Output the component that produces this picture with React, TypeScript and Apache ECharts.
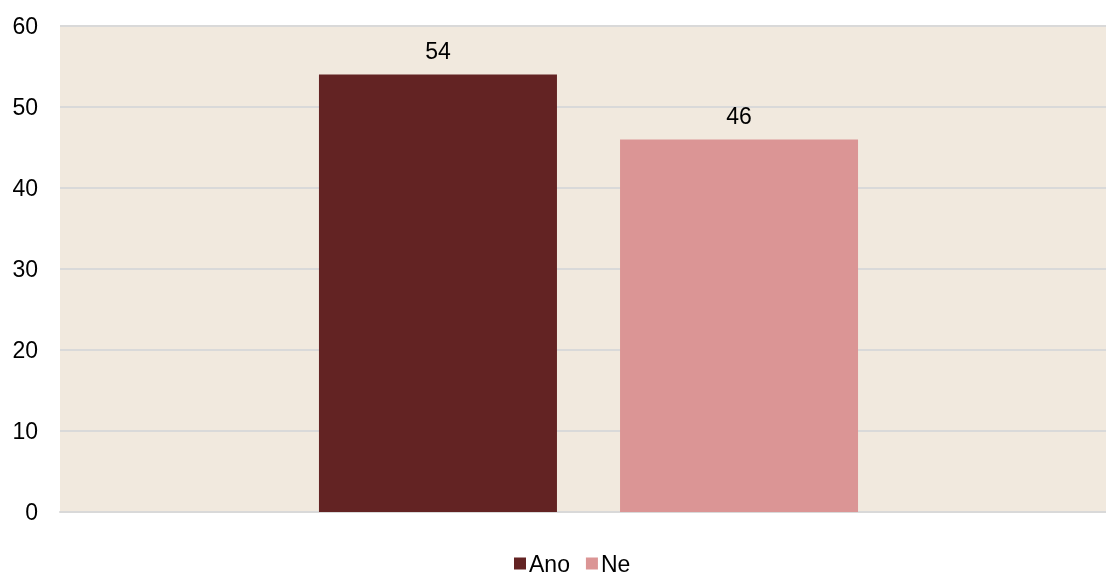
import React, { useEffect, useRef } from "react";
import * as echarts from "echarts";

const categories = [""];
const seriesNames = ["Ano", "Ne"];
const anoValues = [54];
const neValues = [46];
const yTicks = [0, 10, 20, 30, 40, 50, 60];

export default function App() {
  const ref = useRef<HTMLDivElement>(null);
  useEffect(() => {
    const chart = echarts.init(ref.current!, null, { renderer: "svg" });
    const font = "Liberation Sans, Arial, sans-serif";
    chart.setOption({
      animation: false,
      textStyle: { fontFamily: font },
      grid: {
        left: 60,
        right: -11,
        top: 26,
        bottom: 63,
        outerBoundsMode: "none",
        containLabel: false,
        show: true,
        backgroundColor: "#F1E9DE",
        borderWidth: 0,
      },
      legend: {
        top: 552,
        left: 514,
        padding: 0,
        itemWidth: 12,
        itemHeight: 12,
        itemGap: 16,
        icon: "rect",
        textStyle: {
          fontSize: 23,
          lineHeight: 20,
          color: "#000",
          fontFamily: font,
          padding: [0, 0, 0, -2],
        },
        data: seriesNames,
      },
      xAxis: {
        type: "category",
        data: categories,
        axisLine: { lineStyle: { color: "#D9D9D9", width: 2 } },
        axisTick: { show: false },
        axisLabel: { show: false },
      },
      yAxis: {
        type: "value",
        min: yTicks[0],
        max: yTicks[yTicks.length - 1],
        interval: 10,
        axisLine: { show: false },
        axisTick: { show: false },
        axisLabel: { fontSize: 23, color: "#000", margin: 22, fontFamily: font },
        splitLine: { lineStyle: { color: "#D9D9D9", width: 2 } },
      },
      series: [
        {
          name: seriesNames[0],
          type: "bar",
          data: anoValues,
          barWidth: 238,
          barGap: "26.5%",
          itemStyle: { color: "#632323" },
          label: { show: true, position: "top", distance: 12, fontSize: 23, color: "#000", fontFamily: font },
        },
        {
          name: seriesNames[1],
          type: "bar",
          data: neValues,
          barWidth: 238,
          barGap: "26.5%",
          itemStyle: { color: "#DB9595" },
          label: { show: true, position: "top", distance: 12, fontSize: 23, color: "#000", fontFamily: font },
        },
      ],
    });
    return () => chart.dispose();
  }, []);
  return (
    <div
      ref={ref}
      style={{ position: "fixed", left: 0, top: 0, width: 1106, height: 575 }}
    />
  );
}
